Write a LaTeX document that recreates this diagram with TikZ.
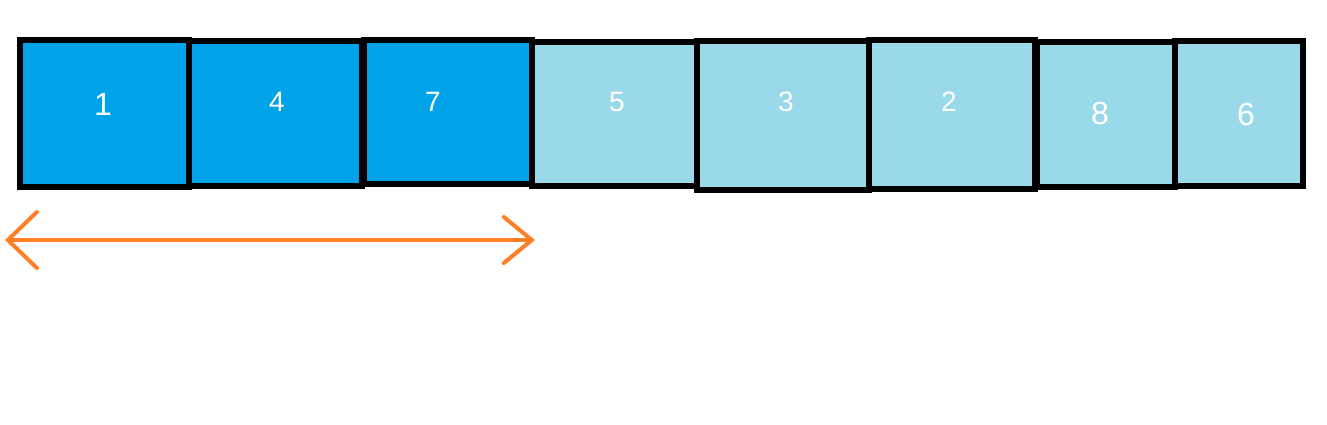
\documentclass[tikz,border=0pt]{standalone}
\usepackage{fontspec}
\setmainfont{Liberation Sans}
\usetikzlibrary{arrows.meta}
\definecolor{cellDark}{HTML}{00A2E8}
\definecolor{cellLight}{HTML}{99D9EA}
\definecolor{spanOrange}{HTML}{FF7F27}
\tikzset{
  cell/.style={draw=black, line width=6pt, inner sep=0pt, rectangle},
  darkcell/.style={cell, fill=cellDark},
  lightcell/.style={cell, fill=cellLight},
  num/.style={text=white, font=\fontsize{28}{28}\selectfont, inner sep=0pt},
  bignum/.style={num, font=\fontsize{32}{32}\selectfont},
  span/.style={draw=spanOrange, line width=4pt, line cap=round}
}

\begin{document}
\begin{tikzpicture}[x=1pt,y=-1pt]
  \useasboundingbox (0,0) rectangle (1327,424);
  % the row of cells
  \node[lightcell, minimum width=165pt, minimum height=144pt] (c4) at (614.5,114) {};
  \node[lightcell, minimum width=172pt, minimum height=149pt] (c5) at (783,115.5) {};
  \node[lightcell, minimum width=166pt, minimum height=149pt] (c6) at (952,114.5) {};
  \node[lightcell, minimum width=138pt, minimum height=145pt] (c7) at (1106,114.5) {};
  \node[lightcell, minimum width=128pt, minimum height=145pt] (c8) at (1239,113.5) {};
  \node[darkcell, minimum width=169pt, minimum height=147pt] (c1) at (104.5,113.5) {};
  \node[darkcell, minimum width=173pt, minimum height=145pt] (c2) at (275.5,113.5) {};
  \node[darkcell, minimum width=168pt, minimum height=144pt] (c3) at (448,112) {};
  % the numbers
  \node[bignum] (n1) at (103,104) {1};
  \node[num] (n4) at (277,102) {4};
  \node[num] (n7) at (433,102) {7};
  \node[num] (n5) at (617,102) {5};
  \node[num] (n3) at (786,102) {3};
  \node[num] (n2) at (949,102) {2};
  \node[bignum] (n8) at (1100,113) {8};
  \node[bignum] (n6) at (1246,114) {6};
  % the span under the first three
  \coordinate (spanL) at (5,240);
  \coordinate (spanR) at (535,240);
  \draw[span, {Straight Barb[length=29pt,width=56pt,line cap=round]}-{Straight Barb[length=28pt,width=46pt,line cap=round]}] (spanL) -- (spanR);
\end{tikzpicture}
\end{document}
